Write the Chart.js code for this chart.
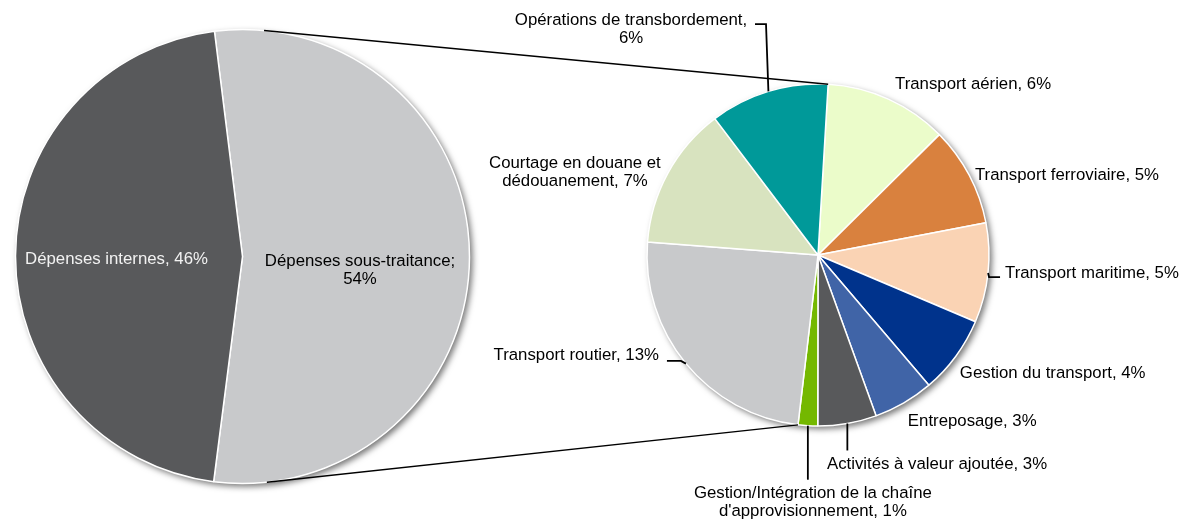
<!DOCTYPE html>
<html lang="fr">
<head>
  <meta charset="UTF-8">
  <title>Répartition des dépenses logistiques</title>
  <script src="https://cdn.jsdelivr.net/npm/chart.js"></script>
  <style>
    body {
      margin: 0;
      background: #fff;
      overflow: hidden;
    }
    #wrap {
      position: relative;
      width: 1184px;
      height: 522px;
    }
    canvas {
      position: absolute;
      left: 0;
      top: 0;
    }
  </style>
</head>
<body>
<div id="wrap">
  <canvas id="mainPie" width="1184" height="522"></canvas>
  <canvas id="detailPie" width="1184" height="522"></canvas>
</div>

<script>
  // grand camembert (sens horaire depuis le haut)
  const mainLabels = ['Dépenses sous-traitance', 'Dépenses internes'];
  const mainValues = [54, 46];
  const mainColors = ['#c8c9cb', '#58595b'];

  // détail de la sous-traitance (sens horaire depuis le haut)
  const detailLabels = [
    'Transport aérien',
    'Transport ferroviaire',
    'Transport maritime',
    'Gestion du transport',
    'Entreposage',
    'Activités à valeur ajoutée',
    "Gestion/Intégration de la chaîne d'approvisionnement",
    'Transport routier',
    'Courtage en douane et dédouanement',
    'Opérations de transbordement'
  ];
  const detailValues = [6.3, 5.1, 5.1, 4.0, 3.1, 3.0, 1.0, 13.2, 7.3, 6.1];
  const detailColors = [
    '#ebfcca', '#d9813e', '#fad3b4', '#00338c', '#4064a7',
    '#58595b', '#74b800', '#c8c9cb', '#d8e3bf', '#009999'
  ];

  const FONT = '16.8px "Liberation Sans", Arial, sans-serif';
  const LINE_H = 18.5;

  // placement des étiquettes, relatif au milieu du bord de chaque part
  const mainLayout = [
    { sep: ';', brk: 2, align: 'center', dx: -109.5, dy: 4 },
    { sep: ',', align: 'center', dx: 101, dy: 3, color: '#f2f2f2' }
  ];
  const detailLayout = [
    { sep: ',', align: 'left', dx: 6.6, dy: -15 },
    { sep: ',', align: 'left', dx: 5.7, dy: 0 },
    { sep: ',', align: 'left', dx: 17, dy: 0, leader: [[1, 4], [12, 4]] },
    { sep: ',', align: 'left', dx: 4, dy: 17 },
    { sep: ',', align: 'left', dx: 4, dy: 18 },
    { sep: ',', align: 'left', dx: -20.4, dy: 40.6, leader: [[0, 27]] },
    { sep: ',', brk: 4, align: 'center', dx: 5, dy: 67.3, leader: [[0, 54]] },
    { sep: ',', align: 'right', dx: -27, dy: -8.7, leader: [[-5, -2.7], [-19, -2.7]] },
    { sep: ',', brk: 4, align: 'center', dx: -93, dy: -10 },
    { sep: ',', brk: 3, align: 'center', dx: -137.4, dy: -71.3, leader: [[-2.4, -67.3], [-13.4, -67.3]] }
  ];

  // ombre portée sous le disque
  const pieShadow = {
    id: 'pieShadow',
    beforeDatasetsDraw(chart) {
      const arc = chart.getDatasetMeta(0).data[0];
      const ctx = chart.ctx;
      ctx.save();
      ctx.shadowColor = 'rgba(0, 0, 0, 0.55)';
      ctx.shadowBlur = 6;
      ctx.shadowOffsetX = 3;
      ctx.shadowOffsetY = 3;
      ctx.beginPath();
      ctx.arc(arc.x, arc.y, arc.outerRadius, 0, Math.PI * 2);
      ctx.fillStyle = '#fff';
      ctx.fill();
      ctx.restore();
    }
  };

  const sliceLabels = {
    id: 'sliceLabels',
    afterDatasetsDraw(chart, args, opts) {
      const ctx = chart.ctx;
      const values = chart.data.datasets[0].data;
      ctx.save();
      ctx.font = FONT;
      ctx.textBaseline = 'middle';
      ctx.strokeStyle = '#000';
      ctx.lineWidth = 1.8;
      chart.getDatasetMeta(0).data.forEach((arc, i) => {
        const lay = opts.layout[i];
        const mid = (arc.startAngle + arc.endAngle) / 2;
        const rx = arc.x + arc.outerRadius * Math.cos(mid);
        const ry = arc.y + arc.outerRadius * Math.sin(mid);
        const words = (chart.data.labels[i] + lay.sep + ' ' + Math.round(values[i]) + '%').split(' ');
        const lines = lay.brk
          ? [words.slice(0, lay.brk).join(' '), words.slice(lay.brk).join(' ')]
          : [words.join(' ')];
        if (lay.leader) {
          ctx.beginPath();
          ctx.moveTo(rx, ry);
          lay.leader.forEach(p => ctx.lineTo(rx + p[0], ry + p[1]));
          ctx.stroke();
        }
        ctx.fillStyle = lay.color || '#000';
        ctx.textAlign = lay.align;
        lines.forEach((t, k) => ctx.fillText(t, rx + lay.dx, ry + lay.dy + k * LINE_H));
      });
      ctx.restore();
    }
  };

  function tangentPoint(arc, p, upper) {
    const dx = p.x - arc.x, dy = p.y - arc.y;
    const base = Math.atan2(dy, dx);
    const off = Math.acos(arc.outerRadius / Math.hypot(dx, dy));
    const a = upper ? base - off : base + off;
    return { x: arc.x + arc.outerRadius * Math.cos(a), y: arc.y + arc.outerRadius * Math.sin(a) };
  }

  // lignes reliant les deux camemberts
  const connectors = {
    id: 'connectors',
    afterDatasetsDraw(chart) {
      const big = mainChart.getDatasetMeta(0).data[0];
      const parts = chart.getDatasetMeta(0).data;
      const first = parts[0];
      const last = parts[6];
      const top = {
        x: first.x + first.outerRadius * Math.cos(first.startAngle),
        y: first.y + first.outerRadius * Math.sin(first.startAngle)
      };
      const bottom = {
        x: last.x + last.outerRadius * Math.cos(last.endAngle),
        y: last.y + last.outerRadius * Math.sin(last.endAngle)
      };
      const ctx = chart.ctx;
      ctx.save();
      ctx.strokeStyle = '#000';
      ctx.lineWidth = 1.4;
      [[top, true], [bottom, false]].forEach(([p, upper]) => {
        const t = tangentPoint(big, p, upper);
        ctx.beginPath();
        ctx.moveTo(t.x, t.y);
        ctx.lineTo(p.x, p.y);
        ctx.stroke();
      });
      ctx.restore();
    }
  };

  const mainChart = new Chart(document.getElementById('mainPie'), {
    type: 'pie',
    data: {
      labels: mainLabels,
      datasets: [{
        data: mainValues,
        backgroundColor: mainColors,
        borderColor: '#fff',
        borderWidth: 1.5,
        hoverOffset: 0
      }]
    },
    options: {
      responsive: false,
      animation: false,
      rotation: -7.1,
      radius: 227,
      layout: { padding: { left: 15, right: 714, top: 30, bottom: 39 } },
      plugins: {
        legend: { display: false },
        tooltip: { enabled: false },
        sliceLabels: { layout: mainLayout }
      }
    },
    plugins: [pieShadow, sliceLabels]
  });

  new Chart(document.getElementById('detailPie'), {
    type: 'pie',
    data: {
      labels: detailLabels,
      datasets: [{
        data: detailValues,
        backgroundColor: detailColors,
        borderColor: '#fff',
        borderWidth: 1.5,
        hoverOffset: 0
      }]
    },
    options: {
      responsive: false,
      animation: false,
      rotation: 3.4,
      radius: 171,
      layout: { padding: { left: 647, right: 195, top: 84, bottom: 96 } },
      plugins: {
        legend: { display: false },
        tooltip: { enabled: false },
        sliceLabels: { layout: detailLayout }
      }
    },
    plugins: [pieShadow, sliceLabels, connectors]
  });
</script>
</body>
</html>
